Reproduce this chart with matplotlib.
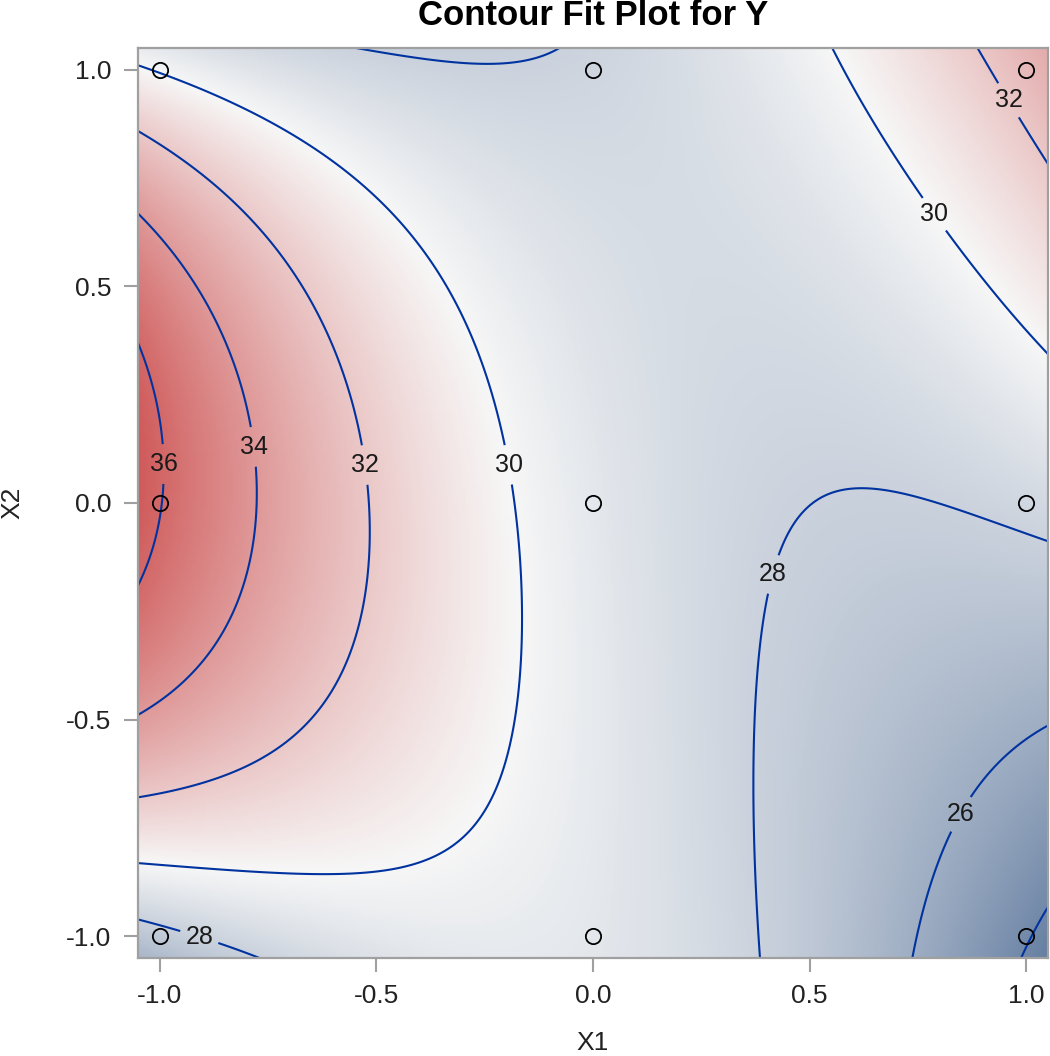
import matplotlib
matplotlib.use("Agg")
import matplotlib.pyplot as plt
import numpy as np
from matplotlib.colors import LinearSegmentedColormap

# design points (3x3 factorial) and response Y at each point
x1_pts = [-1, 0, 1, -1, 0, 1, -1, 0, 1]
x2_pts = [-1, -1, -1, 0, 0, 0, 1, 1, 1]
y_pts = [27.6, 29.15, 24.1, 36.05, 29.2, 28.3, 29.9, 28.2, 32.6]

levels = [24, 26, 28, 30, 32, 34, 36]
ticks = [-1.0, -0.5, 0.0, 0.5, 1.0]
tick_labels = ["-1.0", "-0.5", "0.0", "0.5", "1.0"]

plt.rcParams['font.family'] = ['Liberation Sans', 'DejaVu Sans']


def terms(a, b):
    a = np.asarray(a, float)
    b = np.asarray(b, float)
    return np.stack([np.ones_like(a), a, b, a * a, a * b, b * b,
                     a * a * b, a * b * b, a * a * b * b], axis=-1)


# fit the response surface to the design points
coef, *_ = np.linalg.lstsq(terms(x1_pts, x2_pts), np.array(y_pts), rcond=None)

g = np.linspace(-1.05, 1.05, 400)
G1, G2 = np.meshgrid(g, g)
Z = terms(G1, G2) @ coef

cmap = LinearSegmentedColormap.from_list("ramp", ["#667FA2", "#F7F7F7", "#D05B5B"])

fig = plt.figure(figsize=(10.5, 10.56), dpi=100)
ax = fig.add_axes([138 / 1050, 98 / 1056, 910 / 1050, 910 / 1056])

ax.imshow(Z, extent=(-1.05, 1.05, -1.05, 1.05), origin="lower", cmap=cmap,
          vmin=Z.min(), vmax=Z.max(), interpolation="bilinear", aspect="auto")
cs = ax.contour(G1, G2, Z, levels=levels, colors="#0033A0", linewidths=1.5)

label_spots = [(-0.99, 0.09), (-0.78, 0.13), (-0.51, 0.09), (-0.185, 0.09),
               (0.42, -0.166), (0.852, -0.72), (0.79, 0.668), (0.96, 0.93),
               (-0.905, -0.99)]
labels = ax.clabel(cs, fmt="%d", fontsize=18, colors="#1a1a1a", inline=True,
                   inline_spacing=6, manual=label_spots)
for t in labels:
    t.set_rotation(0)

ax.plot(x1_pts, x2_pts, "o", mfc="none", mec="black", ms=11, mew=1.3)

ax.set_xlim(-1.05, 1.05)
ax.set_ylim(-1.05, 1.05)
ax.set_xticks(ticks)
ax.set_xticklabels(tick_labels)
ax.set_yticks(ticks)
ax.set_yticklabels(tick_labels)
ax.tick_params(length=10, width=1.5, color="#A0A0A0", labelsize=19,
               labelcolor="#222222", pad=9)
for s in ax.spines.values():
    s.set_color("#A0A0A0")
    s.set_linewidth(1.6)

ax.set_xlabel("X1", fontsize=19, color="#222222")
ax.set_ylabel("X2", fontsize=19, color="#222222")
ax.xaxis.set_label_coords(0.5, -0.093)
ax.yaxis.set_label_coords(-0.138, 0.5)
ax.xaxis.label.set_va("center")
ax.yaxis.label.set_va("center")

fig.text(593 / 1050, 1 - 25 / 1056, "Contour Fit Plot for Y", ha="center",
         va="baseline", fontsize=25, fontweight="bold")

fig.savefig("out.png", dpi=100)
